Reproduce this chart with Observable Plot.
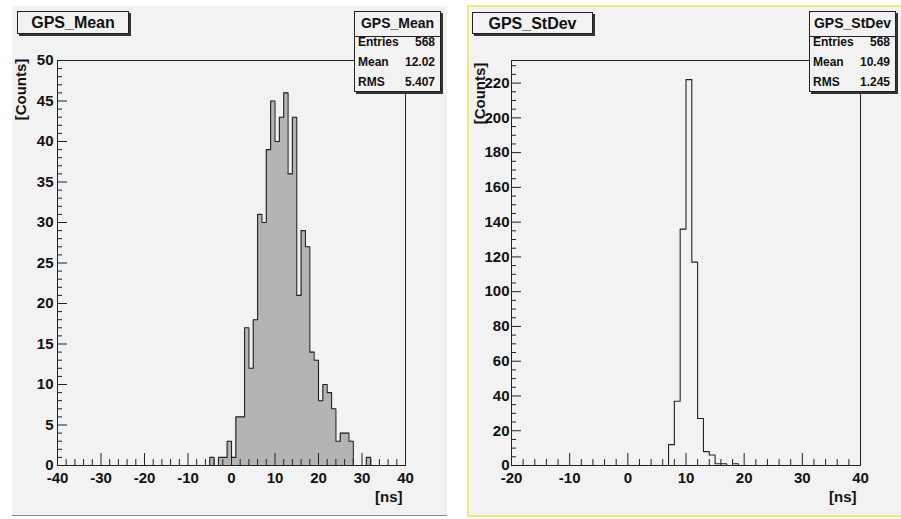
<!DOCTYPE html>
<html><head><meta charset="utf-8">
<script src="https://cdn.jsdelivr.net/npm/d3@7"></script>
<script src="https://cdn.jsdelivr.net/npm/@observablehq/plot@0.6"></script>
<style>
html,body{margin:0;padding:0;background:#fff}
body{width:901px;height:519px;overflow:hidden;position:relative;font-family:"Liberation Sans",Arial,Helvetica,sans-serif;font-weight:bold;color:#111}
.abs{position:absolute}
#padL{left:12px;top:6px;width:435px;height:510px;background:#f2f2f2;border-bottom:1px solid #8a8a8a;box-sizing:border-box}
#padR{left:467px;top:5px;width:436px;height:512px;background:#f2f2f2;border:2px solid #ecec74;box-sizing:border-box}
.tbox{background:#f2f2f2;border:1px solid #222;box-shadow:2px 2px 0 #333;font-size:16px;text-align:center;box-sizing:border-box;line-height:21px}
.sbox{background:#f2f2f2;border:1px solid #222;box-shadow:2px 2px 0 #333;box-sizing:border-box}
.sbox .st{position:absolute;left:0;right:0;top:0;height:24px;border-bottom:1px solid #222;font-size:14px;text-align:center;line-height:22px}
.sbox .row{position:absolute;left:3px;right:5px;font-size:12px;height:14px;line-height:14px}
.sbox .row span.v{position:absolute;right:0}
.lbl{font-size:15px;white-space:nowrap}
svg{position:absolute}
</style>
</head><body>
<div id="padL" class="abs"></div>
<div id="padR" class="abs"></div>
<div id="chartL"></div>
<div id="chartR"></div>
<script>
// ---------- data ----------
const meanTitle = "GPS_Mean";
const meanBinLow = [-5,-4,-3,-2,-1,0,1,2,3,4,5,6,7,8,9,10,11,12,13,14,15,16,17,18,19,20,21,22,23,24,25,26,27,28,29,30,31];
const meanCounts = [1,0,1,1,3,1,6,6,17,12,18,31,30,39,45,40,43,46,36,43,21,29,27,14,13,8,10,9,7,3,4,4,3,0,0,0,1];
const meanStats = [["Entries","568"],["Mean","12.02"],["RMS","5.407"]];
const meanXDomain = [-40, 40];
const meanYDomain = [0, 50];
const meanXMajor = [-40,-30,-20,-10,0,10,20,30,40];
const meanXMinor = [-38,-36,-34,-32,-28,-26,-24,-22,-18,-16,-14,-12,-8,-6,-4,-2,2,4,6,8,12,14,16,18,22,24,26,28,32,34,36,38];
const meanYMajor = [0,5,10,15,20,25,30,35,40,45,50];
const meanYMinor = [1,2,3,4,6,7,8,9,11,12,13,14,16,17,18,19,21,22,23,24,26,27,28,29,31,32,33,34,36,37,38,39,41,42,43,44,46,47,48,49];

const sdTitle = "GPS_StDev";
const sdBinLow = [7,8,9,10,11,12,13,14,15,16,17,18];
const sdCounts = [12,37,136,222,117,27,8,6,1,1,0,1];
const sdStats = [["Entries","568"],["Mean","10.49"],["RMS","1.245"]];
const sdXDomain = [-20, 40];
const sdYDomain = [0, 233];
const sdXMajor = [-20,-10,0,10,20,30,40];
const sdXMinor = [-18,-16,-14,-12,-8,-6,-4,-2,2,4,6,8,12,14,16,18,22,24,26,28,32,34,36,38];
const sdYMajor = [0,20,40,60,80,100,120,140,160,180,200,220];
const sdYMinor = [5,10,15,25,30,35,45,50,55,65,70,75,85,90,95,105,110,115,125,130,135,145,150,155,165,170,175,185,190,195,205,210,215,225,230];

const yLabel = "[Counts]";
const xLabel = "[ns]";

// ---------- helpers ----------
function outline(domain, lows, counts) {
  const m = new Map(lows.map((l, i) => [l, counts[i]]));
  const pts = [];
  for (let x = domain[0]; x < domain[1]; x += 1) {
    const c = m.get(x) || 0;
    pts.push({x, y: c}, {x: x + 1, y: c});
  }
  return pts;
}

function histPlot(cfg) {
  const innerW = cfg.width - cfg.ml - cfg.mr;
  const innerH = cfg.height - cfg.mt - cfg.mb;
  const pts = outline(cfg.xDomain, cfg.lows, cfg.counts);
  const marks = [];
  if (cfg.fill) marks.push(Plot.areaY(pts, {x: "x", y1: 0, y2: "y", fill: cfg.fill}));
  marks.push(
    Plot.line(pts, {x: "x", y: "y", stroke: "#222", strokeWidth: 1.1}),
    Plot.tickX(cfg.xMinor, {x: d => d, insetTop: innerH - 6, stroke: "#222"}),
    Plot.tickX(cfg.xMajor, {x: d => d, insetTop: innerH - 12, stroke: "#222"}),
    Plot.tickY(cfg.yMinor, {y: d => d, insetRight: innerW - 5, stroke: "#222"}),
    Plot.tickY(cfg.yMajor, {y: d => d, insetRight: innerW - 10, stroke: "#222"}),
    Plot.axisX({ticks: cfg.xMajor, tickSize: 0, tickPadding: 7, tickFormat: d => String(d), label: null}),
    Plot.axisY({ticks: cfg.yMajor, tickSize: 0, tickPadding: cfg.ypad, tickFormat: d => String(d), label: null}),
    Plot.frame({stroke: "#222"})
  );
  return Plot.plot({
    width: cfg.width, height: cfg.height,
    marginLeft: cfg.ml, marginRight: cfg.mr, marginTop: cfg.mt, marginBottom: cfg.mb,
    x: {domain: cfg.xDomain},
    y: {domain: cfg.yDomain},
    style: {background: "transparent", fontFamily: '"Liberation Sans", Arial, sans-serif', fontWeight: "bold", fontSize: "15px", color: "#111", overflow: "visible"},
    marks
  });
}

function addDiv(cls, style, html) {
  const d = document.createElement("div");
  d.className = "abs " + cls;
  Object.assign(d.style, style);
  d.innerHTML = html;
  document.body.appendChild(d);
  return d;
}

function statBox(left, top, title, stats) {
  const box = addDiv("sbox", {left: left + "px", top: top + "px", width: "87px", height: "81px"}, "");
  const t = document.createElement("div"); t.className = "st"; t.textContent = title; box.appendChild(t);
  const tops = [23, 43, 63];
  stats.forEach(([k, v], i) => {
    const r = document.createElement("div"); r.className = "row"; r.style.top = tops[i] + "px";
    r.innerHTML = `<span>${k}</span><span class="v">${v}</span>`;
    box.appendChild(r);
  });
}

// ---------- left pad ----------
const left = histPlot({width: 435, height: 510, ml: 45, mr: 42, mt: 54, mb: 51,
  xDomain: meanXDomain, yDomain: meanYDomain, lows: meanBinLow, counts: meanCounts, fill: "#b4b4b4",
  xMajor: meanXMajor, xMinor: meanXMinor, yMajor: meanYMajor, yMinor: meanYMinor, ypad: 4});
left.style.left = "12px"; left.style.top = "6px";
document.getElementById("chartL").appendChild(left);

addDiv("tbox", {left: "17px", top: "11px", width: "112px", height: "23px"}, meanTitle);
statBox(354, 11, meanTitle, meanStats);
addDiv("lbl", {left: "21px", top: "58px"}, yLabel);
addDiv("lbl", {left: "375px", top: "488px"}, xLabel);

// ---------- right pad ----------
const right = histPlot({width: 433, height: 510, ml: 43, mr: 41, mt: 54, mb: 51,
  xDomain: sdXDomain, yDomain: sdYDomain, lows: sdBinLow, counts: sdCounts, fill: null,
  xMajor: sdXMajor, xMinor: sdXMinor, yMajor: sdYMajor, yMinor: sdYMinor, ypad: 2});
right.style.left = "468px"; right.style.top = "6px";
document.getElementById("chartR").appendChild(right);

addDiv("tbox", {left: "472px", top: "12px", width: "121px", height: "22px"}, sdTitle);
statBox(809, 11, sdTitle, sdStats);
addDiv("lbl", {left: "480px", top: "62px"}, yLabel);
addDiv("lbl", {left: "829px", top: "488px"}, xLabel);

// rotated y labels: reads bottom-to-top, top end at given top, centred on given x
document.querySelectorAll(".lbl").forEach(el => {
  if (el.textContent === yLabel) {
    const w = el.offsetWidth, h = el.offsetHeight;
    const cx = parseFloat(el.style.left), top = parseFloat(el.style.top);
    el.style.transform = "rotate(-90deg)";
    el.style.transformOrigin = "50% 50%";
    el.style.left = (cx - w / 2) + "px";
    el.style.top = (top + w / 2 - h / 2) + "px";
  }
});
</script>
</body></html>
